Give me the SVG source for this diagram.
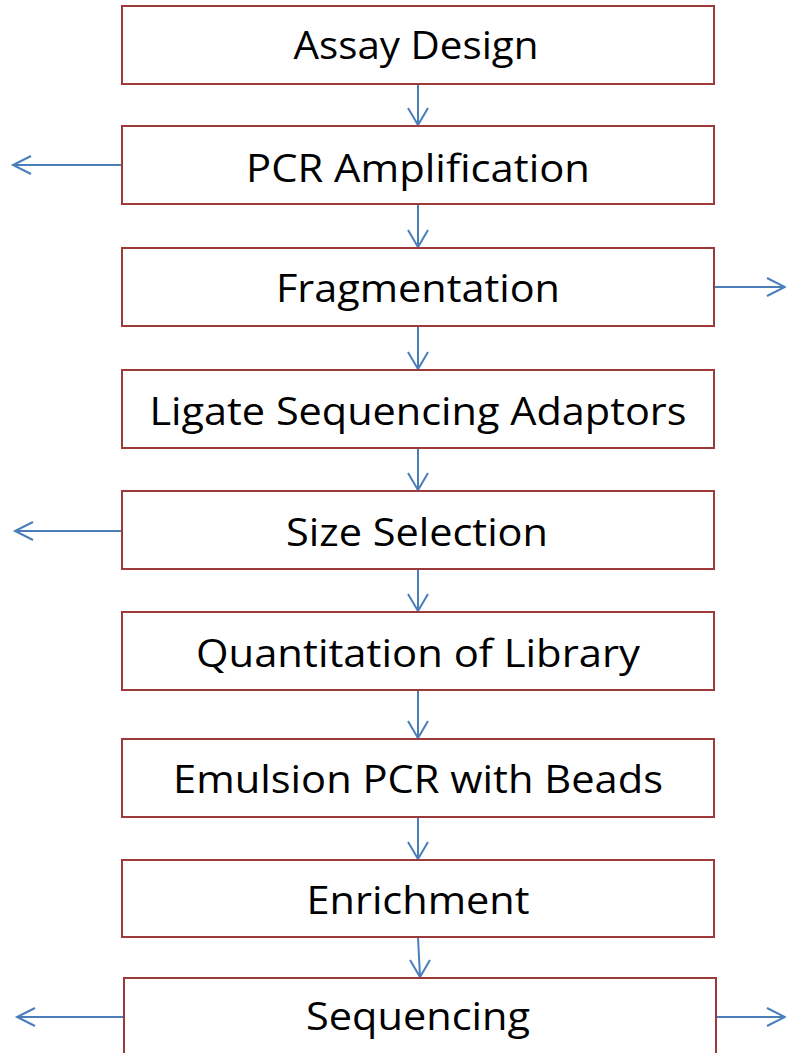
<svg xmlns="http://www.w3.org/2000/svg" width="786" height="1053" viewBox="0 0 786 1053">
<style>
.box{fill:#fff;stroke:#9B3A38;stroke-width:2}
.lbl{font-family:"Open Sans","Liberation Sans",sans-serif;font-size:39px;fill:#000;text-anchor:middle}
.ln{fill:none;stroke:#4A7EBB;stroke-width:2}
</style>
<rect width="786" height="1053" fill="#fff"/>
<g id="connectors" class="ln">
<path d="M418 84V125M408 108L418 125L428 108"/>
<path d="M418 204V247M408 230L418 247L428 230"/>
<path d="M418 326V369M408 352L418 369L428 352"/>
<path d="M418 448V490M408 473L418 490L428 473"/>
<path d="M418 569V611M408 594L418 611L428 594"/>
<path d="M418 690V738M408 721L418 738L428 721"/>
<path d="M418 817V859M408 842L418 859L428 842"/>
<path d="M418 937L420 977M410 960L420 977L430 960"/>
<path d="M122 165H13M31 156L13 165L31 174"/>
<path d="M122 531H15M33 522L15 531L33 540"/>
<path d="M124 1017H17M35 1008L17 1017L35 1026"/>
<path d="M714 287H785M767 278L785 287L767 296"/>
<path d="M716 1017H785M767 1008L785 1017L767 1026"/>
</g>
<g id="n1"><rect class="box" x="122" y="6" width="592" height="78"/><text class="lbl" x="416" y="59" textLength="245" lengthAdjust="spacingAndGlyphs">Assay Design</text></g>
<g id="n2"><rect class="box" x="122" y="126" width="592" height="78"/><text class="lbl" x="418" y="182" textLength="344" lengthAdjust="spacingAndGlyphs">PCR Amplification</text></g>
<g id="n3"><rect class="box" x="122" y="248" width="592" height="78"/><text class="lbl" x="418" y="302" textLength="284" lengthAdjust="spacingAndGlyphs">Fragmentation</text></g>
<g id="n4"><rect class="box" x="122" y="370" width="592" height="78"/><text class="lbl" x="418" y="425" textLength="537" lengthAdjust="spacingAndGlyphs">Ligate Sequencing Adaptors</text></g>
<g id="n5"><rect class="box" x="122" y="491" width="592" height="78"/><text class="lbl" x="417" y="546" textLength="262" lengthAdjust="spacingAndGlyphs">Size Selection</text></g>
<g id="n6"><rect class="box" x="122" y="612" width="592" height="78"/><text class="lbl" x="418" y="667" textLength="444" lengthAdjust="spacingAndGlyphs">Quantitation of Library</text></g>
<g id="n7"><rect class="box" x="122" y="739" width="592" height="78"/><text class="lbl" x="418" y="793" textLength="490" lengthAdjust="spacingAndGlyphs">Emulsion PCR with Beads</text></g>
<g id="n8"><rect class="box" x="122" y="860" width="592" height="77"/><text class="lbl" x="418" y="914" textLength="223" lengthAdjust="spacingAndGlyphs">Enrichment</text></g>
<g id="n9"><rect class="box" x="124" y="978" width="592" height="90"/><text class="lbl" x="418" y="1030" textLength="224" lengthAdjust="spacingAndGlyphs">Sequencing</text></g>
</svg>
